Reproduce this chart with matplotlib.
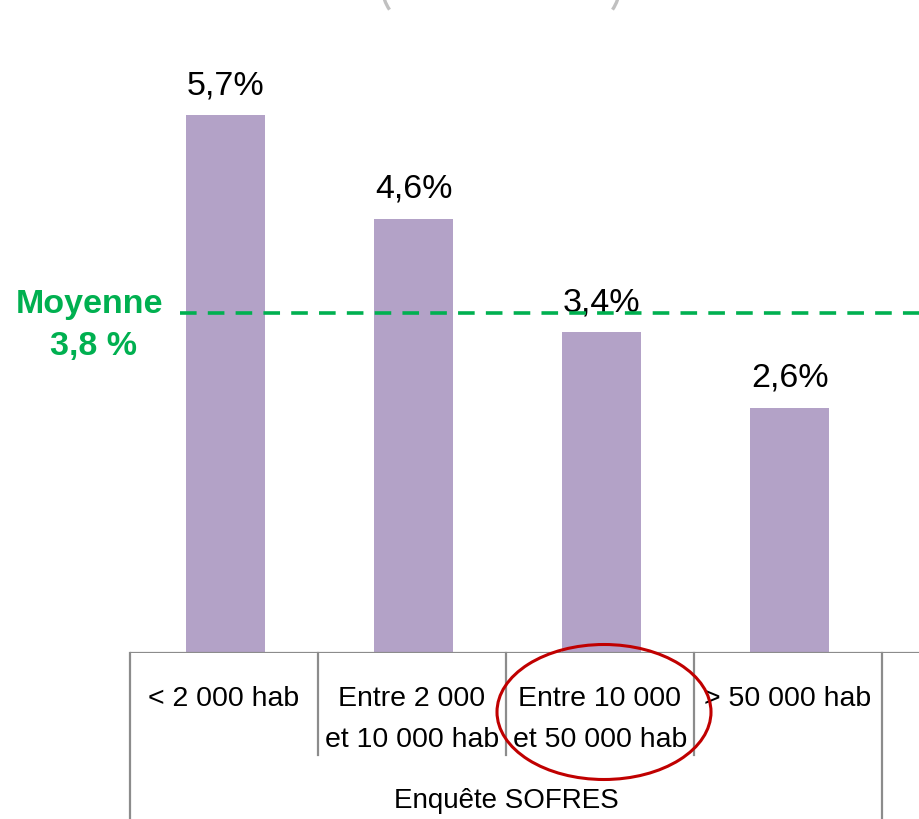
import matplotlib
matplotlib.use("Agg")
import matplotlib.pyplot as plt
from matplotlib.patches import Ellipse, Arc
import matplotlib.transforms as mtransforms

# data
categories = ["< 2 000 hab", "Entre 2 000\net 10 000 hab", "Entre 10 000\net 50 000 hab", "> 50 000 hab"]
values = [5.7, 4.6, 3.4, 2.6]
value_labels = ["5,7%", "4,6%", "3,4%", "2,6%"]
group_label = "Enquête SOFRES"
mean_label = ["Moyenne", "3,8 %"]
mean_line_level = 3.6   # where the dashed line sits in the source picture

plt.rcParams['font.family'] = ['Liberation Sans', 'DejaVu Sans']

W, H = 919, 819
fig = plt.figure(figsize=(W / 100, H / 100), dpi=100)
ax = fig.add_axes([130 / W, (H - 653) / H, 1 - 130 / W, 653 / H])

x = list(range(len(values)))
bar_color = '#B3A2C7'
# bars sit a hair right of the cell centres in the source
ax.bar([xi + 0.01 for xi in x], values, width=0.42, color=bar_color, zorder=2)

ax.set_xlim(-0.5, 3.697)
ax.set_ylim(0, 653 / 94.4)
for s in ax.spines.values():
    s.set_visible(False)
ax.set_xticks([])
ax.set_yticks([])

# value labels above the bars
for xi, v, lab in zip(x, values, value_labels):
    ax.annotate(lab, (xi + 0.01, v), xytext=(0, 15), textcoords='offset points',
                ha='center', va='baseline', fontsize=24.5, color='black')

# mean line
ax.plot([-0.234, 3.697], [mean_line_level, mean_line_level], color='#00B050', lw=2.6,
        dashes=(4.6, 3.1), dash_capstyle='butt', zorder=3, clip_on=False)
fig.text(90 / W, 1 - 313 / H, mean_label[0], ha='center', va='baseline',
         fontsize=24.5, fontweight='bold', color='#00B050')
fig.text(93 / W, 1 - 355 / H, mean_label[1], ha='center', va='baseline',
         fontsize=24.5, fontweight='bold', color='#00B050')

# category table under the axis
grid_color = '#8C8C8C'
trans = mtransforms.blended_transform_factory(ax.transData, ax.transAxes)
ax.axhline(0, color=grid_color, lw=1.6, zorder=4)
for b in [-0.5, 0.5, 1.5, 2.5, 3.5]:
    bottom = -0.26 if b in (-0.5, 3.5) else -0.156
    ax.plot([b, b], [0, bottom], color=grid_color, lw=1.6, transform=trans, clip_on=False)

for xi, cat in zip(x, categories):
    for k, line in enumerate(cat.split("\n")):
        ax.text(xi, (653 - 706 - 41 * k) / 653, line, transform=trans, ha='center',
                va='baseline', fontsize=20.5, color='black')

ax.text(1.5, (653 - 808) / 653, group_label, transform=trans, ha='center',
        va='baseline', fontsize=20, color='black')

# red ellipse highlighting the third category
fig.patches.append(Ellipse((604 / 100, (H - 712) / 100), 2.14, 1.35,
                           transform=fig.dpi_scale_trans, fill=False,
                           edgecolor='#C00000', lw=2.2))

# bit of a grey rounded shape poking in at the top
for t1, t2 in [(180, 190), (350, 360)]:
    fig.patches.append(Arc((5.01, (H + 10) / 100), 2.36, 1.2, theta1=t1, theta2=t2,
                           transform=fig.dpi_scale_trans, edgecolor='#C0C0C0', lw=2.4))

fig.savefig("out.png", dpi=100)
